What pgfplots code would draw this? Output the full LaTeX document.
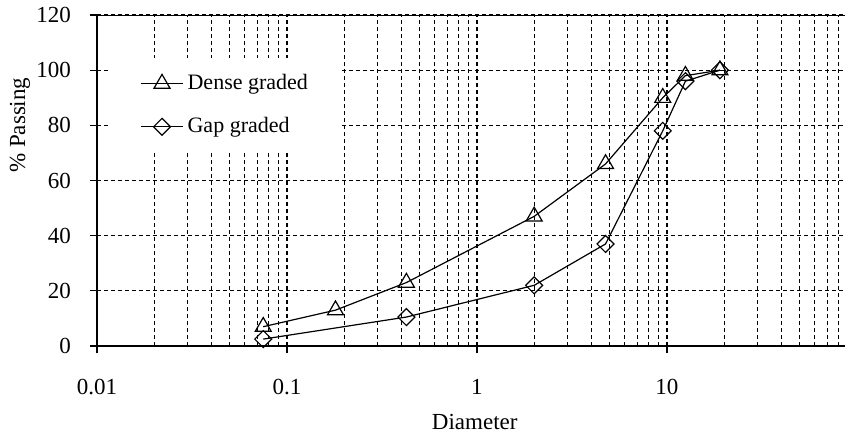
\documentclass[border=0pt]{standalone}
\usepackage{fontspec}
\setmainfont{Liberation Serif}
\usepackage{pgfplots}
\pgfplotsset{compat=1.18}

\begin{document}
\begin{tikzpicture}
\begin{axis}[
    at={(0,0)}, anchor=south west,
    scale only axis,
    width=374pt, height=165.5pt,
    xmode=log,
    xmin=0.01, xmax=86.5,
    ymin=0, ymax=120,
    xtick={0.01,0.1,1,10},
    xticklabels={0.01,0.1,1,10},
    minor xtick={0.02,0.03,0.04,0.05,0.06,0.07,0.08,0.09,
                 0.2,0.3,0.4,0.5,0.6,0.7,0.8,0.9,
                 2,3,4,5,6,7,8,9,
                 20,30,40,50,60,70,80},
    ytick={0,20,...,120},
    axis lines*=left,
    axis line style={line width=0.8pt},
    tick align=outside,
    major tick length=3.5pt,
    minor tick length=0pt,
    tick style={black, line width=0.6pt},
    xmajorgrids, xminorgrids, ymajorgrids,
    grid style={black, line width=0.6pt, dash pattern=on 2pt off 1.5pt},
    /pgf/number format/assume math mode=true,
    tick label style={font=\fontsize{11.5}{13}\selectfont},
    yticklabel style={xshift=-6pt},
    xticklabel style={yshift=-9.5pt},
    xlabel={Diameter},
    ylabel={\% Passing},
    label style={font=\fontsize{11.5}{13}\selectfont},
    xlabel style={at={(axis description cs:0.505,-0.230)}, anchor=center},
    ylabel style={at={(axis description cs:-0.103,0.667)}, anchor=center},
    legend style={draw=none, fill=white, at={(axis description cs:0.0174,0.870)},
        anchor=north west, inner xsep=15pt, inner ysep=6pt, row sep=8.5pt,
        font=\fontsize{11}{13}\selectfont},
    legend cell align=left,
    legend image code/.code={\draw[mark repeat=2,mark phase=2] plot coordinates {(0pt,0pt) (10.5pt,0pt) (21pt,0pt)};},
]
% Dense graded
\addplot[black, line width=0.6pt, mark=triangle, mark size=4.6pt, mark options={solid, fill=none}]
    coordinates {(0.075,7) (0.18,13) (0.425,23) (2,47) (4.75,66) (9.5,90) (12.5,98) (19,100)};
% Gap graded
\addplot[black, line width=0.6pt, mark=square, mark size=3pt, mark options={solid, fill=none, rotate=45}]
    coordinates {(0.075,2.5) (0.425,10.5) (2,22) (4.75,37) (9.5,78) (12.5,96) (19,100)};
\legend{Dense graded, Gap graded}
\draw[line width=0.8pt] (rel axis cs:0,1) -- (rel axis cs:1,1);
\end{axis}
\pgfresetboundingbox
\path (-48.5pt,-45pt) rectangle (374pt,173pt);
\end{tikzpicture}
\end{document}
